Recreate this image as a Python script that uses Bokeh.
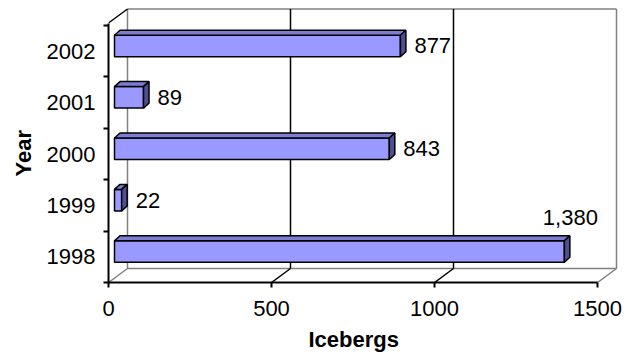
from bokeh.plotting import figure
from bokeh.models import FixedTicker, Range1d, Title
from bokeh.embed import file_html
from bokeh.resources import INLINE
from bokeh.core.properties import value

# ---- data ----
years = ["1998", "1999", "2000", "2001", "2002"]
icebergs = [1380, 22, 843, 89, 877]
value_labels = ["1,380", "22", "843", "89", "877"]
x_ticks = [0, 500, 1000, 1500]
x_axis_max = 1500
x_title = "Icebergs"
y_title = "Year"

# ---- layout ----
W, H = 626, 358
LEFT, BOTTOM = 108, 76
FW, FH = W - LEFT, H - BOTTOM
PX_X = 489 / x_axis_max          # pixels per iceberg
CAT_PX = 51.4                    # pixels per category
X_END = FW / PX_X
Y_START = -0.5
Y_END = Y_START + FH / CAT_PX


def ux(px):
    return px / PX_X


def uy(px):
    return px / CAT_PX


FONT = "Liberation Sans"
FS = "22px"
n = len(years)
front_top = n - 0.5 + uy(2.5)
wdx, wdy = ux(19), uy(14)              # depth of the 3D box (back wall offset)
bx0 = ux(6)                              # bar origin offset inside the box
f_lo, f_hi = uy(5.5), uy(16)            # bar front face extent around category centre
ddx, ddy = ux(5.5), uy(5)               # bar depth

p = figure(width=W, height=H, output_backend="svg", toolbar_location=None,
           x_range=Range1d(0, X_END), y_range=Range1d(Y_START, Y_END),
           min_border_left=LEFT, min_border_right=0, min_border_top=0,
           min_border_bottom=BOTTOM)
p.outline_line_color = None
p.xgrid.visible = False
p.ygrid.visible = False
p.background_fill_color = "white"
p.border_fill_color = "white"

GREY = "#808080"
# back wall + floor (grey)
y_floor_back = Y_START + wdy
y_top_back = front_top + wdy
p.segment(x0=[wdx, wdx, x_axis_max + wdx, wdx, 0, x_axis_max],
          y0=[y_floor_back, y_top_back, y_floor_back, y_floor_back, Y_START, Y_START],
          x1=[wdx, x_axis_max + wdx, x_axis_max + wdx, x_axis_max + wdx, wdx, x_axis_max + wdx],
          y1=[y_top_back, y_top_back, y_top_back, y_floor_back, y_floor_back, y_floor_back],
          line_color=GREY, line_width=1.5)
# gridlines (black) on back wall and floor
grid_vals = [t for t in x_ticks if 0 < t < x_axis_max]
p.segment(x0=[g + wdx for g in grid_vals], y0=[y_floor_back] * len(grid_vals),
          x1=[g + wdx for g in grid_vals], y1=[y_top_back] * len(grid_vals),
          line_color="black", line_width=1.5)
p.segment(x0=grid_vals, y0=[Y_START] * len(grid_vals),
          x1=[g + wdx for g in grid_vals], y1=[y_floor_back] * len(grid_vals),
          line_color="black", line_width=1.5)
# top-left edge of the left wall
p.segment(x0=[0], y0=[front_top], x1=[wdx], y1=[y_top_back], line_color="black", line_width=1.5)

# ---- bars ----
front_xs, front_ys, top_xs, top_ys, side_xs, side_ys = [], [], [], [], [], []
for i, v in enumerate(icebergs):
    x0, x1 = bx0, bx0 + v
    yb, yt = i - f_lo, i + f_hi
    front_xs.append([x0, x1, x1, x0]); front_ys.append([yb, yb, yt, yt])
    top_xs.append([x0, x1, x1 + ddx, x0 + ddx]); top_ys.append([yt, yt, yt + ddy, yt + ddy])
    side_xs.append([x1, x1 + ddx, x1 + ddx, x1]); side_ys.append([yb, yb + ddy, yt + ddy, yt])
p.patches(front_xs, front_ys, fill_color="#9999FF", line_color="black", line_width=1.5)
p.patches(top_xs, top_ys, fill_color="#7C7CD2", line_color="black", line_width=1.5)
p.patches(side_xs, side_ys, fill_color="#4F4F92", line_color="black", line_width=1.5)

# ---- value labels ----
rx, ry, rt, ax_, ay_, at_ = [], [], [], [], [], []
for i, (v, t) in enumerate(zip(icebergs, value_labels)):
    if v > 0.85 * x_axis_max:
        ax_.append(bx0 + v + ux(6)); ay_.append(i + uy(39.5)); at_.append(t)
    else:
        rx.append(bx0 + v + ux(14)); ry.append(i + uy(5.25)); rt.append(t)
p.text(x=rx, y=ry, text=rt, text_font=value(FONT), text_font_size=FS,
       text_align="left", text_baseline="middle", text_color="black")
p.text(x=ax_, y=ay_, text=at_, text_font=value(FONT), text_font_size=FS,
       text_align="center", text_baseline="middle", text_color="black")

# ---- axes ----
xa = p.xaxis[0]
xa.ticker = FixedTicker(ticks=x_ticks)
xa.bounds = (0, x_axis_max)
xa.axis_line_width = 2
xa.axis_line_color = "black"
xa.major_tick_out = 5
xa.major_tick_in = 0
xa.minor_tick_out = 0
xa.major_tick_line_width = 2
xa.major_tick_line_color = "black"
xa.major_label_text_font = FONT
xa.major_label_text_font_size = FS
xa.major_label_text_color = "black"
xa.major_label_standoff = 13

ya = p.yaxis[0]
ya.ticker = FixedTicker(ticks=list(range(n)), minor_ticks=[i - 0.5 for i in range(n + 1)])
ya.major_label_overrides = {i: y for i, y in enumerate(years)}
ya.bounds = (Y_START, front_top)
ya.axis_line_width = 2
ya.axis_line_color = "black"
ya.major_tick_out = 0
ya.major_tick_in = 0
ya.minor_tick_out = 5
ya.minor_tick_in = 0
ya.minor_tick_line_width = 2
ya.minor_tick_line_color = "black"
ya.major_label_text_font = FONT
ya.major_label_text_font_size = FS
ya.major_label_text_color = "black"
ya.major_label_standoff = 8

# axis titles
p.add_layout(Title(text=x_title, align="left", offset=200, standoff=12,
                   text_font=FONT, text_font_size=FS, text_font_style="bold",
                   text_color="black"), "below")
p.add_layout(Title(text=y_title, align="left", offset=106, standoff=16,
                   text_font=FONT, text_font_size=FS, text_font_style="bold",
                   text_color="black"), "left")

open("out.html", "w").write(file_html(p, INLINE))
